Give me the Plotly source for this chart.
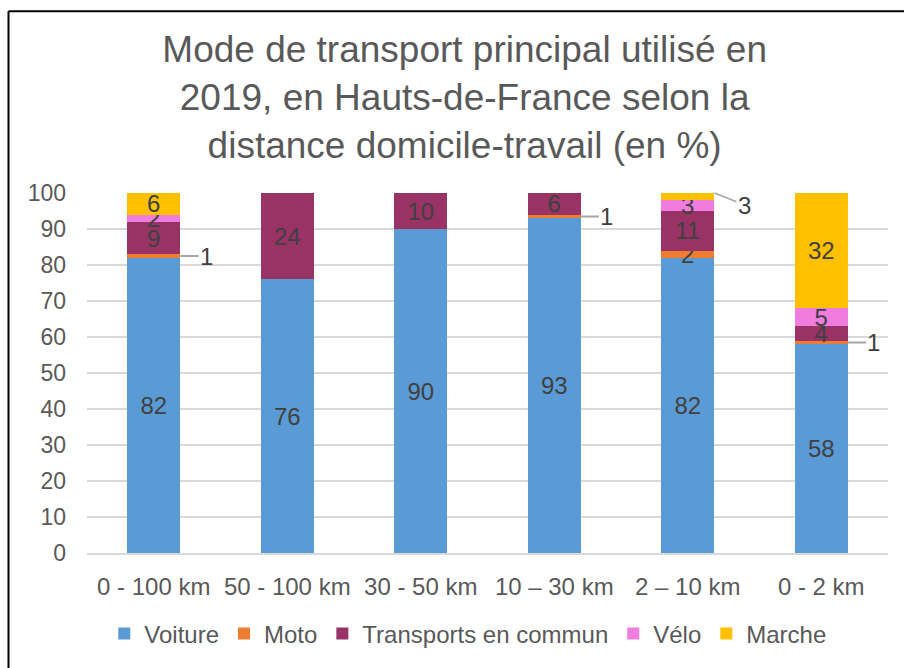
import plotly.graph_objects as go

# Distance domicile-travail categories and modal shares (%)
categories = ["0 - 100 km", "50 - 100 km", "30 - 50 km", "10 – 30 km", "2 – 10 km", "0 - 2 km"]
voiture = [82, 76, 90, 93, 82, 58]
moto = [1, 0, 0, 1, 2, 1]
transports_commun = [9, 24, 10, 6, 11, 4]
velo = [2, 0, 0, 0, 3, 5]
marche = [6, 0, 0, 0, 3, 32]

# Segments whose label is drawn outside the bar with a leader line
moto_outside = [0, 3, 5]
marche_outside = [4]

series = [
    ("Voiture", voiture, "#5B9BD5"),
    ("Moto", moto, "#ED7D31"),
    ("Transports en commun", transports_commun, "#993366"),
    ("Vélo", velo, "#F07CDF"),
    ("Marche", marche, "#FFC000"),
]

FONT = "Liberation Sans, Arial, sans-serif"
LABEL_COLOR = "#404040"
AXIS_COLOR = "#595959"
GRID = "#D9D9D9"

fig = go.Figure()
for name, values, color in series:
    texts = []
    for i, v in enumerate(values):
        hidden = (name == "Moto" and i in moto_outside) or (name == "Marche" and i in marche_outside)
        texts.append("" if v == 0 or hidden else str(v))
    fig.add_trace(go.Bar(
        name=name,
        x=list(range(len(categories))),
        y=values,
        marker=dict(color=color, line=dict(width=0)),
        text=texts,
        textposition="inside",
        insidetextanchor="middle",
        constraintext="none",
        textangle=0,
        textfont=dict(family=FONT, size=24, color=LABEL_COLOR),
        hoverinfo="skip",
    ))

# Leader-line labels for thin segments
half_bar = 0.2
for i in moto_outside:
    y_mid = voiture[i] + moto[i] / 2
    fig.add_annotation(
        x=i + half_bar, y=y_mid, xref="x", yref="y",
        text=str(moto[i]), showarrow=True, arrowhead=0, arrowwidth=2,
        arrowcolor="#A6A6A6", ax=26, ay=0, standoff=0,
        font=dict(family=FONT, size=24, color=LABEL_COLOR),
    )
for i in marche_outside:
    top = min(100, voiture[i] + moto[i] + transports_commun[i] + velo[i] + marche[i])
    fig.add_annotation(
        x=i + half_bar, y=top, xref="x", yref="y",
        text=str(marche[i]), showarrow=True, arrowhead=0, arrowwidth=1.5,
        arrowcolor="#A6A6A6", ax=30, ay=12, standoff=0,
        font=dict(family=FONT, size=24, color=LABEL_COLOR),
    )

# Chart frame (left and top edges)
fig.add_shape(type="line", xref="paper", yref="paper",
              x0=-0.098, x1=-0.098, y0=1.505, y1=-0.4,
              line=dict(color="#000000", width=2))
fig.add_shape(type="line", xref="paper", yref="paper",
              x0=-0.098, x1=1.05, y0=1.505, y1=1.505,
              line=dict(color="#000000", width=2))

fig.update_layout(
    width=904, height=668,
    margin=dict(l=87, r=16, t=193, b=115),
    barmode="stack",
    bargap=0.6,
    paper_bgcolor="white",
    plot_bgcolor="white",
    font=dict(family=FONT, color=AXIS_COLOR),
    title=dict(
        text="Mode de transport principal utilisé en<br>2019, en Hauts-de-France selon la<br>distance domicile-travail (en %)",
        x=0.514, xanchor="center", xref="container",
        y=1 - 62 / 668, yanchor="top", yref="container",
        font=dict(family=FONT, size=37, color=AXIS_COLOR),
    ),
    xaxis=dict(
        tickmode="array",
        tickvals=list(range(len(categories))),
        ticktext=categories,
        range=[-0.5, len(categories) - 0.5],
        showgrid=False,
        showline=True, linecolor=GRID, linewidth=2,
        ticks="",
        ticklabelstandoff=11,
        tickfont=dict(family=FONT, size=24, color=AXIS_COLOR),
        fixedrange=True,
    ),
    yaxis=dict(
        range=[0, 100],
        dtick=10,
        showgrid=True, gridcolor=GRID, gridwidth=1.5,
        zeroline=False,
        ticks="",
        ticklabelstandoff=20,
        tickfont=dict(family=FONT, size=23, color=AXIS_COLOR),
        fixedrange=True,
    ),
    legend=dict(
        orientation="h",
        x=0.476, xanchor="center",
        y=-0.225, yanchor="middle",
        font=dict(family=FONT, size=24, color=AXIS_COLOR),
        traceorder="normal",
    ),
    showlegend=True,
)

fig.write_html("out.html")
